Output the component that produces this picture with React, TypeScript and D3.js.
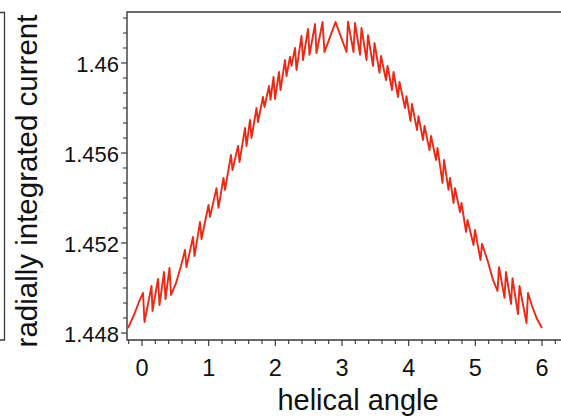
import React from "react";
import * as d3 from "d3";

// helical angle (x) and radially integrated current (y)
const angle = [
  -0.21, -0.12, -0.045, 0.015, 0.0375, 0.1425, 0.1575, 0.24, 0.2625, 0.33,
  0.3525, 0.4125, 0.435, 0.51, 0.585, 0.645, 0.6675, 0.765, 0.7875, 0.87,
  0.8925, 0.9975, 1.02, 1.1175, 1.1475, 1.2225, 1.245, 1.335, 1.3575, 1.44,
  1.4625, 1.545, 1.5675, 1.62, 1.6425, 1.7175, 1.74, 1.815, 1.8375, 1.905,
  1.9275, 1.9725, 1.995, 2.055, 2.0775, 2.145, 2.1675, 2.22, 2.2425, 2.295,
  2.3175, 2.3925, 2.415, 2.49, 2.5125, 2.595, 2.6175, 2.7075, 2.7375, 2.9025,
  3.0675, 3.09, 3.1725, 3.195, 3.27, 3.2925, 3.3675, 3.39, 3.465, 3.4875,
  3.5625, 3.585, 3.66, 3.6825, 3.75, 3.7725, 3.84, 3.8625, 3.945, 3.9675,
  4.0275, 4.05, 4.125, 4.1475, 4.215, 4.2375, 4.3125, 4.335, 4.41, 4.4325,
  4.5075, 4.53, 4.5975, 4.62, 4.6725, 4.695, 4.77, 4.7925, 4.86, 4.8825,
  4.9725, 4.995, 5.0775, 5.1, 5.19, 5.265, 5.3325, 5.355, 5.4375, 5.46,
  5.535, 5.5575, 5.64, 5.6625, 5.7675, 5.79, 5.85, 5.925, 6.0,
];
const current = [
  1.44822, 1.4488, 1.44938, 1.44978, 1.44849, 1.45009, 1.44898, 1.4504, 1.44924, 1.45071,
  1.44951, 1.45089, 1.44969, 1.45022, 1.45098, 1.45169, 1.45093, 1.45227, 1.45142, 1.45293,
  1.45218, 1.45369, 1.45316, 1.45444, 1.45356, 1.45489, 1.45436, 1.45591, 1.45524, 1.45631,
  1.4556, 1.45711, 1.45631, 1.45747, 1.45667, 1.458, 1.45738, 1.45849, 1.45804, 1.45898,
  1.45836, 1.45938, 1.4584, 1.4596, 1.4588, 1.46013, 1.45942, 1.46027, 1.45987, 1.46067,
  1.45969, 1.4612, 1.46013, 1.46151, 1.46036, 1.46173, 1.46044, 1.46182, 1.46049, 1.46182,
  1.46049, 1.46184, 1.46049, 1.46178, 1.46036, 1.46156, 1.46013, 1.46124, 1.45987, 1.46089,
  1.45956, 1.46031, 1.45924, 1.45987, 1.4588, 1.4596, 1.45849, 1.45916, 1.458, 1.45853,
  1.45742, 1.45818, 1.45702, 1.45764, 1.45658, 1.4572, 1.45613, 1.45676, 1.45569, 1.45622,
  1.45467, 1.45569, 1.45436, 1.45489, 1.45378, 1.45444, 1.45338, 1.45378, 1.45249, 1.45302,
  1.45191, 1.45258, 1.45124, 1.45196, 1.45116, 1.45036, 1.44987, 1.45093, 1.44956, 1.45071,
  1.44929, 1.45044, 1.44884, 1.45009, 1.44844, 1.44978, 1.4492, 1.44862, 1.44822,
];

const xTickValues = [0, 1, 2, 3, 4, 5, 6];
const xTickLabels = ["0", "1", "2", "3", "4", "5", "6"];
const yTickValues = [1.448, 1.452, 1.456, 1.46];
const yTickLabels = ["1.448", "1.452", "1.456", "1.46"];
const xLabel = "helical angle";
const yLabel = "radially integrated current";

export default function App() {
  const W = 561;
  const H = 416;
  const left = 127;
  const top = 12;
  const bottom = 340;
  const right = 568.67;

  const x = d3.scaleLinear().domain([-0.225, 6.4]).range([left, right]);
  const y = d3.scaleLinear().domain([1.447689, 1.462267]).range([bottom, top]);

  const pts: [number, number][] = angle.map((a, i) => [a, current[i]]);
  const line = d3
    .line<[number, number]>()
    .x((d) => x(d[0]))
    .y((d) => y(d[1]))
    .curve(d3.curveLinear);

  const xMinor = d3.range(-0.2, 6.41, 0.2).filter((v) => Math.abs(v - Math.round(v)) > 1e-6);
  const yStep = 0.004 / 6;
  const yMinor = d3
    .range(1.448 - yStep, 1.4623, yStep)
    .filter((v) => v >= 1.447689 && v <= 1.462267)
    .filter((v) => !yTickValues.some((t) => Math.abs(t - v) < 1e-7));

  const font = "'Liberation Sans', Arial, Helvetica, sans-serif";
  const axisColor = "#3a3a3a";

  return (
    <svg
      width={W}
      height={H}
      style={{ position: "absolute", left: 0, top: 0, background: "#fff" }}
    >
      <rect x={0} y={0} width={W} height={H} fill="#fff" />
      {/* neighbouring panel border */}
      <path d={`M0,12.5 H4.5 V340 H0`} fill="none" stroke={axisColor} strokeWidth={1.3} />

      {/* frame */}
      <path
        d={`M${right},${top} H${left} V${bottom} H${right}`}
        fill="none"
        stroke={axisColor}
        strokeWidth={1.4}
      />

      {/* y ticks */}
      {yTickValues.map((v) => (
        <line key={"ym" + v} x1={left - 6} x2={left} y1={y(v)} y2={y(v)} stroke={axisColor} strokeWidth={1.2} />
      ))}
      {yMinor.map((v, i) => (
        <line key={"yn" + i} x1={left - 4} x2={left} y1={y(v)} y2={y(v)} stroke={axisColor} strokeWidth={1.1} />
      ))}
      {yTickValues.map((v, i) => (
        <text
          key={"yl" + v}
          x={left - 8}
          y={y(v) + 8.5}
          textAnchor="end"
          fontFamily={font}
          fontSize={22}
          fill="#111"
        >
          {yTickLabels[i]}
        </text>
      ))}

      {/* x ticks */}
      {xTickValues.map((v) => (
        <line key={"xm" + v} x1={x(v)} x2={x(v)} y1={bottom} y2={bottom + 6} stroke={axisColor} strokeWidth={1.2} />
      ))}
      {xMinor.map((v, i) => (
        <line key={"xn" + i} x1={x(v)} x2={x(v)} y1={bottom} y2={bottom + 4} stroke={axisColor} strokeWidth={1.1} />
      ))}
      {xTickValues.map((v, i) => (
        <text
          key={"xl" + v}
          x={x(v)}
          y={376}
          textAnchor="middle"
          fontFamily={font}
          fontSize={23.5}
          fill="#111"
        >
          {xTickLabels[i]}
        </text>
      ))}

      {/* axis titles */}
      <text x={358} y={410} textAnchor="middle" fontFamily={font} fontSize={29} fill="#111">
        {xLabel}
      </text>
      <text
        transform={`translate(37,181) rotate(-90)`}
        textAnchor="middle"
        fontFamily={font}
        fontSize={29.5}
        fill="#111"
      >
        {yLabel}
      </text>

      {/* data line */}
      <path d={line(pts) || ""} fill="none" stroke="#ea2a17" strokeWidth={1.9} strokeLinejoin="round" />
    </svg>
  );
}
